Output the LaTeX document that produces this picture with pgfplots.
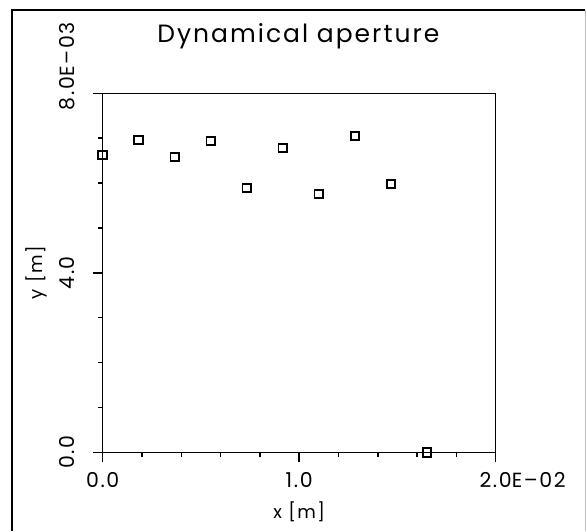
\documentclass[border=0pt]{standalone}
\usepackage{pgfplots}
\pgfplotsset{compat=1.18}
\usepackage{fontspec}
\setmainfont{Poppins}[LetterSpace=8]
\begin{document}
\begin{tikzpicture}
\useasboundingbox (-102.7pt,-78.7pt) rectangle (484.3pt,452.3pt);
\begin{axis}[
  at={(0pt,0pt)}, anchor=south west,
  scale only axis, width=393pt, height=359pt,
  xmin=0, xmax=0.02, ymin=0, ymax=0.008,
  scaled ticks=false,
  /pgf/number format/assume math mode=true,
  xtick={0,0.01,0.02}, ytick={0,0.004,0.008},
  xticklabels={0.0,1.0,{2.0\makebox[0pt][l]{E\textendash02}}},
  yticklabels={0.0,4.0,{8.0\makebox[0pt][l]{E\textendash03}}},
  minor x tick num=4, minor y tick num=3,
  tick align=outside, xtick pos=bottom, ytick pos=left,
  major tick length=10pt, minor tick length=5pt,
  tick style={black, line width=1.5pt},
  axis line style={line width=1.4pt},
  tick label style={font=\fontsize{20.5}{20.5}\selectfont},
  xticklabel style={anchor=north, inner sep=0pt, yshift=-10pt},
  yticklabel style={rotate=90, anchor=south, inner sep=0pt, yshift=18pt},
  xlabel={x [m]},
  xlabel style={font=\fontsize{18}{18}\selectfont, at={(axis description cs:0.5,-0.167)}, anchor=center},
  ylabel={y [m]},
  ylabel style={font=\fontsize{18}{18}\selectfont, at={(axis description cs:-0.1697,0.5)}, anchor=center},
  clip=false,
]
\addplot[only marks, mark=square, mark size=4.3pt, mark options={line width=1.9pt, black, rounded corners=1pt}] coordinates {
  (0,        6.625e-3)
  (0.001833, 6.959e-3)
  (0.003667, 6.580e-3)
  (0.0055,   6.937e-3)
  (0.007333, 5.890e-3)
  (0.009167, 6.781e-3)
  (0.011,    5.756e-3)
  (0.012833, 7.048e-3)
  (0.014667, 5.979e-3)
  (0.0165,   0)
};
\end{axis}
\node[anchor=base, inner sep=0pt, font=\fontsize{25}{25}\selectfont] at (195.8pt,409.3pt) {Dynamical aperture};
\draw[line width=1.3pt] (-90.7pt,-78.7pt) -- (-90.7pt,442.3pt) -- (482.3pt,442.3pt);
\draw[black!25, line width=0.8pt] (482.3pt,442.3pt) -- (482.3pt,-78.7pt);
\end{tikzpicture}
\end{document}
